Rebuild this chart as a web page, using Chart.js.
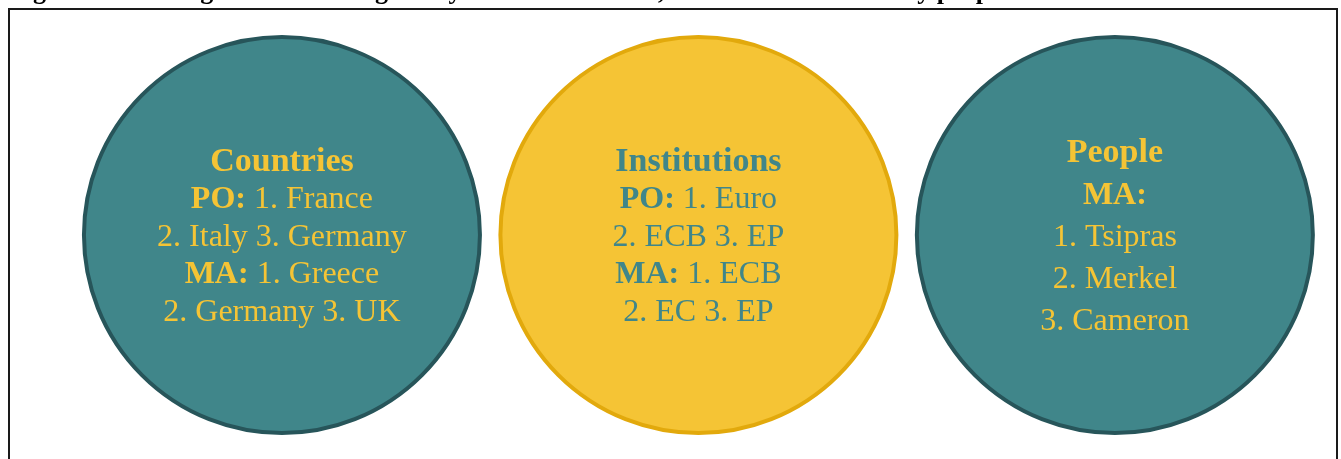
<!DOCTYPE html>
<html>
<head>
<meta charset="utf-8">
<script src="https://cdn.jsdelivr.net/npm/chart.js@4.4.1/dist/chart.umd.min.js"></script>
<style>
  html, body { margin: 0; padding: 0; background: #fff; overflow: hidden; }
  #wrap { position: relative; width: 1341px; height: 459px; }
</style>
</head>
<body>
<div id="wrap"><canvas id="circles"></canvas></div>
<script>
// the three groups and what goes inside each circle ("bold|regular")
const groups = ['Countries', 'Institutions', 'People'];
const groupPos = [1, 2, 3];
const countryLines = ['PO:|1. France', '|2. Italy 3. Germany', 'MA:|1. Greece', '|2. Germany 3. UK'];
const institutionLines = ['PO:|1. Euro', '|2. ECB 3. EP', 'MA:|1. ECB', '|2. EC 3. EP'];
const peopleLines = ['MA:|', '|1. Tsipras', '|2. Merkel', '|3. Cameron'];
const titleText = 'Figure 6: Ranking of the most negatively framed countries, institutions and the key people in the crisis';

const lineSets = [countryLines, institutionLines, peopleLines];

const teal = '#40868a';
const tealEdge = '#27555a';
const gold = '#f5c435';
const goldEdge = '#e2a90c';

const circleText = {
    id: 'circleText',
    beforeDraw(chart) {
        const ctx = chart.ctx;
        ctx.save();
        // frame round the figure, bottom runs off the page
        ctx.strokeStyle = '#1a1a1a';
        ctx.lineWidth = 2;
        ctx.strokeRect(9, 9, 1328, 600);
        // caption, mostly cut off at the top
        ctx.fillStyle = '#000';
        ctx.font = 'bold 26px "Liberation Serif"';
        ctx.textBaseline = 'alphabetic';
        ctx.fillText(titleText, 10, -1);
        ctx.restore();
    },
    afterDatasetsDraw(chart, args, opts) {
        const ctx = chart.ctx;
        const meta = chart.getDatasetMeta(0);
        ctx.save();
        ctx.textBaseline = 'alphabetic';
        meta.data.forEach((pt, i) => {
            const rows = [[groups[i], '']].concat(lineSets[i].map(s => s.split('|')));
            const gap = opts.gaps[i];
            const n = rows.length;
            ctx.fillStyle = opts.colors[i];
            rows.forEach((row, j) => {
                const y = pt.y + opts.shift + (j - (n - 1) / 2) * gap;
                const size = j === 0 ? opts.headSize : opts.size;
                const boldFont = 'bold ' + size + 'px ' + opts.family;
                const regFont = size + 'px ' + opts.family;
                const b = row[0];
                const r = (b && row[1] ? ' ' : '') + row[1];
                ctx.font = boldFont;
                const wb = b ? ctx.measureText(b).width : 0;
                ctx.font = regFont;
                const wr = r ? ctx.measureText(r).width : 0;
                let x = pt.x - (wb + wr) / 2;
                if (b) {
                    ctx.font = boldFont;
                    ctx.fillText(b, x, y);
                    x += wb;
                }
                if (r) {
                    ctx.font = regFont;
                    ctx.fillText(r, x, y);
                }
            });
        });
        ctx.restore();
    }
};

const ctx = document.getElementById('circles').getContext('2d');
const chart = new Chart(ctx, {
    type: 'bubble',
    data: {
        labels: groups,
        datasets: [{
            data: groupPos.map(p => ({ x: p, y: 0 })),
            radius: 198,
            borderWidth: 4,
            clip: false,
            backgroundColor: [teal, gold, teal],
            borderColor: [tealEdge, goldEdge, tealEdge]
        }]
    },
    options: {
        responsive: true,
        maintainAspectRatio: false,
        animation: false,
        events: [],
        layout: { padding: 0, autoPadding: false },
        scales: {
            x: { type: 'linear', display: false, min: 0.323, max: 3.543 },
            y: { type: 'linear', display: false, min: -1, max: 1.05 }
        },
        plugins: {
            legend: { display: false },
            tooltip: { enabled: false },
            circleText: {
                family: '"Liberation Serif"',
                size: 32,
                headSize: 34,
                shift: 10.5,
                gaps: [37.5, 37.5, 42],
                colors: [gold, teal, gold]
            }
        }
    },
    plugins: [circleText]
});
</script>
</body>
</html>
